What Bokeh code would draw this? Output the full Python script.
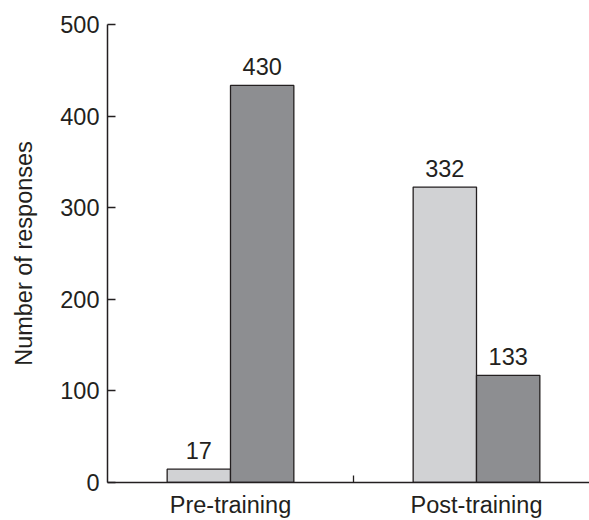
from bokeh.plotting import figure
from bokeh.models import ColumnDataSource, Range1d, FixedTicker, LabelSet
from bokeh.core.properties import value
from bokeh.embed import file_html
from bokeh.resources import INLINE

# ---- data ----
categories = ["Pre-training", "Post-training"]
light_values = [14.5, 322.5]     # light-grey bar heights as drawn
dark_values = [433.5, 117.0]     # dark-grey bar heights as drawn
light_labels = ["17", "332"]
dark_labels = ["430", "133"]
y_ticks = [0, 100, 200, 300, 400, 500]

# ---- styling ----
FONT = "Liberation Sans"
INK = "#231f20"
LIGHT = "#d1d2d4"
DARK = "#8d8e91"
BAR_W = 0.2575
FS = "23.5px"

cat_pos = [i + 1 for i in range(len(categories))]
separators = [(a + b) / 2 for a, b in zip(cat_pos[:-1], cat_pos[1:])]

light_src = ColumnDataSource(dict(
    x=[c - BAR_W / 2 for c in cat_pos], top=light_values, label=light_labels))
dark_src = ColumnDataSource(dict(
    x=[c + BAR_W / 2 for c in cat_pos], top=dark_values, label=dark_labels))

p = figure(width=589, height=520, output_backend="svg", toolbar_location=None,
           x_range=Range1d(0.5, 0.5 + 482 / 246), y_range=Range1d(0, 500),
           min_border_left=107, min_border_right=0, min_border_top=24,
           min_border_bottom=38)
p.outline_line_color = None
p.grid.grid_line_color = None
p.background_fill_color = "white"
p.border_fill_color = "white"

p.vbar(x="x", top="top", width=BAR_W, source=light_src, fill_color=LIGHT,
       line_color=INK, line_width=1.3)
p.vbar(x="x", top="top", width=BAR_W, source=dark_src, fill_color=DARK,
       line_color=INK, line_width=1.3)

for src in (light_src, dark_src):
    p.add_layout(LabelSet(x="x", y="top", text="label", source=src,
                          y_offset=10, text_align="center",
                          text_baseline="alphabetic", text_font=value(FONT),
                          text_font_size=value(FS), text_color=INK))

# y axis
yax = p.yaxis[0]
yax.ticker = FixedTicker(ticks=y_ticks)
yax.axis_label = "Number of responses"
yax.axis_label_text_font = FONT
yax.axis_label_text_font_size = FS
yax.axis_label_text_font_style = "normal"
yax.axis_label_text_color = INK
yax.axis_label_standoff = 20
yax.major_label_text_font = FONT
yax.major_label_text_font_size = FS
yax.major_label_text_color = INK
yax.major_label_standoff = 8
yax.major_tick_in = 8
yax.major_tick_out = 0
yax.major_tick_line_color = INK
yax.major_tick_line_width = 1.3
yax.minor_tick_line_color = None
yax.axis_line_color = INK
yax.axis_line_width = 1.5

# x axis
xax = p.xaxis[0]
xax.ticker = FixedTicker(ticks=cat_pos, minor_ticks=separators)
xax.major_label_overrides = {c: n for c, n in zip(cat_pos, categories)}
xax.major_label_text_font = FONT
xax.major_label_text_font_size = FS
xax.major_label_text_color = INK
xax.major_label_standoff = 9
xax.major_tick_line_color = None
xax.major_tick_in = 0
xax.major_tick_out = 0
xax.minor_tick_in = 7
xax.minor_tick_out = 0
xax.minor_tick_line_color = INK
xax.minor_tick_line_width = 1.3
xax.axis_line_color = INK
xax.axis_line_width = 1.5

open("out.html", "w").write(file_html(p, INLINE))
